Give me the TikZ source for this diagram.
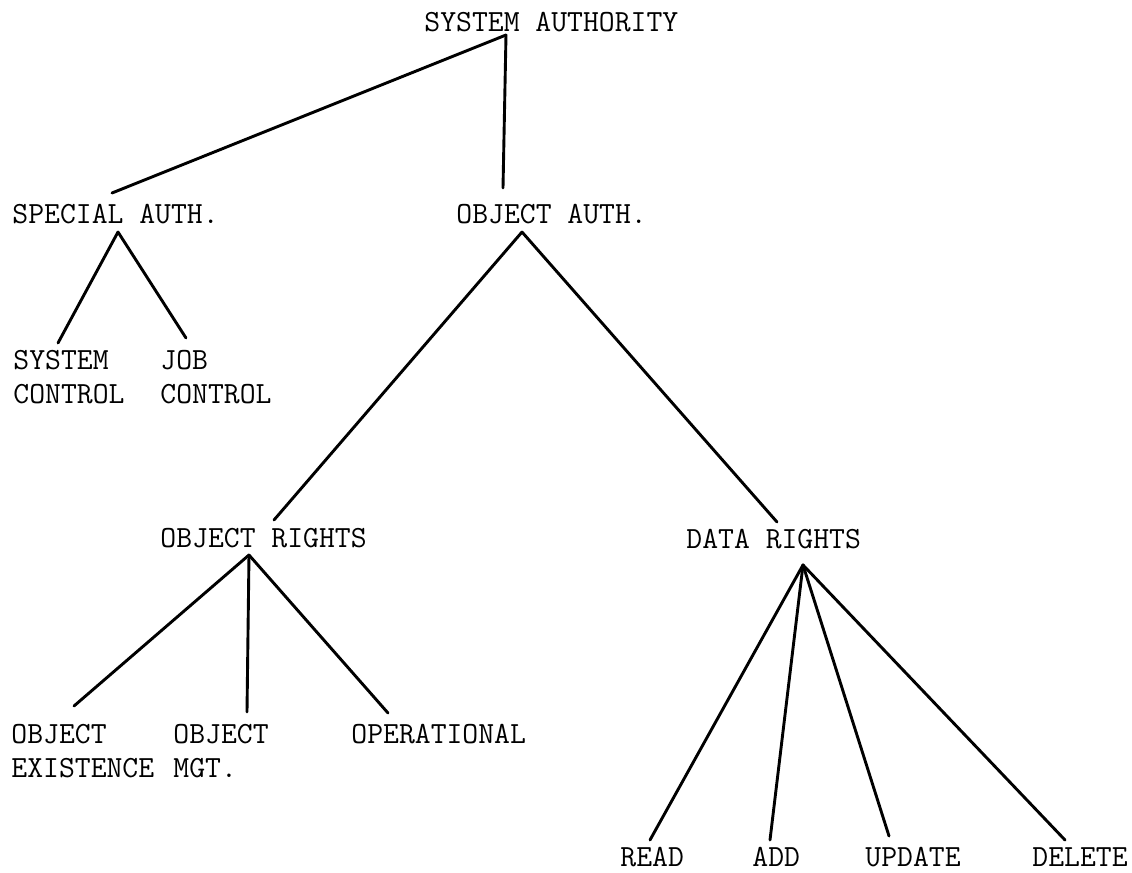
\documentclass[tikz,border=0pt]{standalone}
\usetikzlibrary{calc}
\begin{document}
\begin{tikzpicture}[x=0.5pt,y=-0.5pt,line width=1.45pt,line cap=round,
	lbl/.style={anchor=north west,inner sep=0pt,align=left,font=\fontsize{15.4}{17}\selectfont\ttfamily}]
	\useasboundingbox (0,0) rectangle (1132,873);
	% labels
	\node[lbl] (sa) at (423,11) {SYSTEM AUTHORITY};
	\node[lbl] (special) at (11,203) {SPECIAL AUTH.};
	\node[lbl] (objauth) at (455,203) {OBJECT AUTH.};
	\node[lbl] (sysctl) at (12,349) {SYSTEM\\CONTROL};
	\node[lbl] (jobctl) at (159,349) {JOB\\CONTROL};
	\node[lbl] (objrights) at (159,527) {OBJECT RIGHTS};
	\node[lbl] (datarights) at (685,528) {DATA RIGHTS};
	\node[lbl] (objexist) at (10,723) {OBJECT\\EXISTENCE};
	\node[lbl] (objmgt) at (172,723) {OBJECT\\MGT.};
	\node[lbl] (oper) at (350,723) {OPERATIONAL};
	\node[lbl] (read) at (619,846) {READ};
	\node[lbl] (add) at (751,846) {ADD};
	\node[lbl] (update) at (864,846) {UPDATE};
	\node[lbl] (delete) at (1031,846) {DELETE};
	% branches
	\draw ($(sa.north west)+(83,24)$) -- ($(special.north west)+(101,-10)$);
	\draw ($(sa.north west)+(83,24)$) -- ($(objauth.north west)+(48,-15)$);
	\draw ($(special.north west)+(107,29)$) -- ($(sysctl.north west)+(46,-6)$);
	\draw ($(special.north west)+(107,29)$) -- ($(jobctl.north west)+(27,-11)$);
	\draw ($(objauth.north west)+(67,29)$) -- ($(objrights.north west)+(115,-7)$);
	\draw ($(objauth.north west)+(67,29)$) -- ($(datarights.north west)+(92,-6)$);
	\draw ($(objrights.north west)+(90,28)$) -- ($(objexist.north west)+(64,-17)$);
	\draw ($(objrights.north west)+(90,28)$) -- ($(objmgt.north west)+(75,-11)$);
	\draw ($(objrights.north west)+(90,28)$) -- ($(oper.north west)+(38,-10)$);
	\draw ($(datarights.north west)+(118,37)$) -- ($(read.north west)+(31,-6)$);
	\draw ($(datarights.north west)+(118,37)$) -- ($(add.north west)+(19,-6)$);
	\draw ($(datarights.north west)+(118,37)$) -- ($(update.north west)+(25,-10)$);
	\draw ($(datarights.north west)+(118,37)$) -- ($(delete.north west)+(34,-6)$);
\end{tikzpicture}
\end{document}
